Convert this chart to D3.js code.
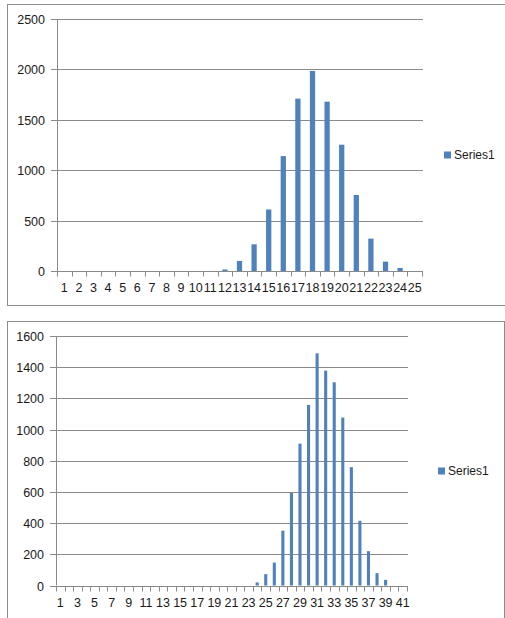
<!DOCTYPE html>
<html>
<head>
<meta charset="utf-8">
<script src="https://cdn.jsdelivr.net/npm/d3@7"></script>
<style>
  html, body { margin: 0; padding: 0; background: #fff; }
  svg { display: block; }
  text { font-family: "Liberation Sans", Arial, sans-serif; fill: #1a1a1a; }
</style>
</head>
<body>
<svg id="chart" width="505" height="618"></svg>
<script>
// ---- Data: chart 1 ----
const topCategories = ["1","2","3","4","5","6","7","8","9","10","11","12","13","14","15","16","17","18","19","20","21","22","23","24","25"];
const topValues = [0,0,0,0,0,0,0,0,0,0,0,15,100,265,610,1140,1710,1985,1680,1253,754,321,93,30,0];
const topYTicks = [0,500,1000,1500,2000,2500];
const topXLabels = ["1","2","3","4","5","6","7","8","9","10","11","12","13","14","15","16","17","18","19","20","21","22","23","24","25"];

// ---- Data: chart 2 ----
const bottomCategories = ["1","2","3","4","5","6","7","8","9","10","11","12","13","14","15","16","17","18","19","20","21","22","23","24","25","26","27","28","29","30","31","32","33","34","35","36","37","38","39","40","41"];
const bottomValues = [0,0,0,0,0,0,0,0,0,0,0,0,0,0,0,0,0,0,0,0,0,0,0,20,73,147,352,594,910,1158,1489,1378,1303,1077,759,415,220,79,36,0,0];
const bottomYTicks = [0,200,400,600,800,1000,1200,1400,1600];
const bottomXLabels = ["1","3","5","7","9","11","13","15","17","19","21","23","25","27","29","31","33","35","37","39","41"];

const seriesName = "Series1";
const barColor = "#4f81bd";
const gridColor = "#8a8a8a";
const borderColor = "#8c8c8c";

const svg = d3.select("#chart");

function drawChart(cfg) {
  const g = svg.append("g");
  // outer border
  g.append("rect")
    .attr("x", cfg.box[0] + 0.5).attr("y", cfg.box[1] + 0.5)
    .attr("width", cfg.box[2]).attr("height", cfg.box[3])
    .attr("fill", "#fff").attr("stroke", borderColor).attr("stroke-width", 1);

  const x = d3.scaleBand()
    .domain(cfg.categories)
    .range([cfg.left, cfg.right])
    .paddingInner(0.64)
    .paddingOuter(0.32);
  const y = d3.scaleLinear()
    .domain([0, cfg.yMax])
    .range([cfg.bottom, cfg.top]);

  // gridlines + y ticks + labels
  cfg.yTicks.forEach(t => {
    const yy = Math.round(y(t)) + 0.5;
    g.append("line")
      .attr("x1", cfg.left - 6).attr("x2", cfg.right + 1)
      .attr("y1", yy).attr("y2", yy)
      .attr("stroke", gridColor).attr("stroke-width", 1);
    g.append("text")
      .attr("x", cfg.left - 12)
      .attr("y", yy)
      .attr("dy", "0.35em")
      .attr("text-anchor", "end")
      .attr("font-size", "12.5px")
      .text(t);
  });

  // y axis line
  g.append("line")
    .attr("x1", cfg.left + 0.5).attr("x2", cfg.left + 0.5)
    .attr("y1", y(cfg.yMax)).attr("y2", y(0))
    .attr("stroke", gridColor).attr("stroke-width", 1);

  // bars
  g.selectAll("rect.bar")
    .data(cfg.values)
    .join("rect")
    .attr("class", "bar")
    .attr("x", (d, i) => x(cfg.categories[i]))
    .attr("width", x.bandwidth())
    .attr("y", d => y(d))
    .attr("height", d => y(0) - y(d))
    .attr("fill", barColor);

  // x tick marks at category boundaries
  const step = x.step();
  const boundaries = cfg.categories.map(c => x(c) + x.bandwidth() / 2 - step / 2);
  boundaries.push(cfg.right);
  const y0 = Math.round(y(0)) + 0.5;
  boundaries.forEach(bx => {
    const xx = Math.round(bx) + 0.5;
    g.append("line")
      .attr("x1", xx).attr("x2", xx)
      .attr("y1", y0).attr("y2", y0 + 5)
      .attr("stroke", gridColor).attr("stroke-width", 1);
  });

  // x labels
  cfg.xLabels.forEach(l => {
    g.append("text")
      .attr("x", x(l) + x.bandwidth() / 2)
      .attr("y", cfg.labelY)
      .attr("dy", "0.35em")
      .attr("text-anchor", "middle")
      .attr("font-size", "12.5px")
      .text(l);
  });

  // legend
  g.append("rect")
    .attr("x", cfg.legend[0]).attr("y", cfg.legend[1] - 3.5)
    .attr("width", 7).attr("height", 7)
    .attr("fill", barColor);
  g.append("text")
    .attr("x", cfg.legend[0] + 10)
    .attr("y", cfg.legend[1])
    .attr("dy", "0.35em")
    .attr("font-size", "12px")
    .text(seriesName);
}

drawChart({
  box: [7, 4, 499, 301],
  categories: topCategories, values: topValues,
  yTicks: topYTicks, yMax: 2500, xLabels: topXLabels,
  left: 57, right: 422, top: 19, bottom: 271,
  labelY: 287.5,
  legend: [444, 155]
});

drawChart({
  box: [7, 321, 497, 310],
  categories: bottomCategories, values: bottomValues,
  yTicks: bottomYTicks, yMax: 1600, xLabels: bottomXLabels,
  left: 56, right: 407, top: 336, bottom: 585.5,
  labelY: 603,
  legend: [438, 471]
});
</script>
</body>
</html>
